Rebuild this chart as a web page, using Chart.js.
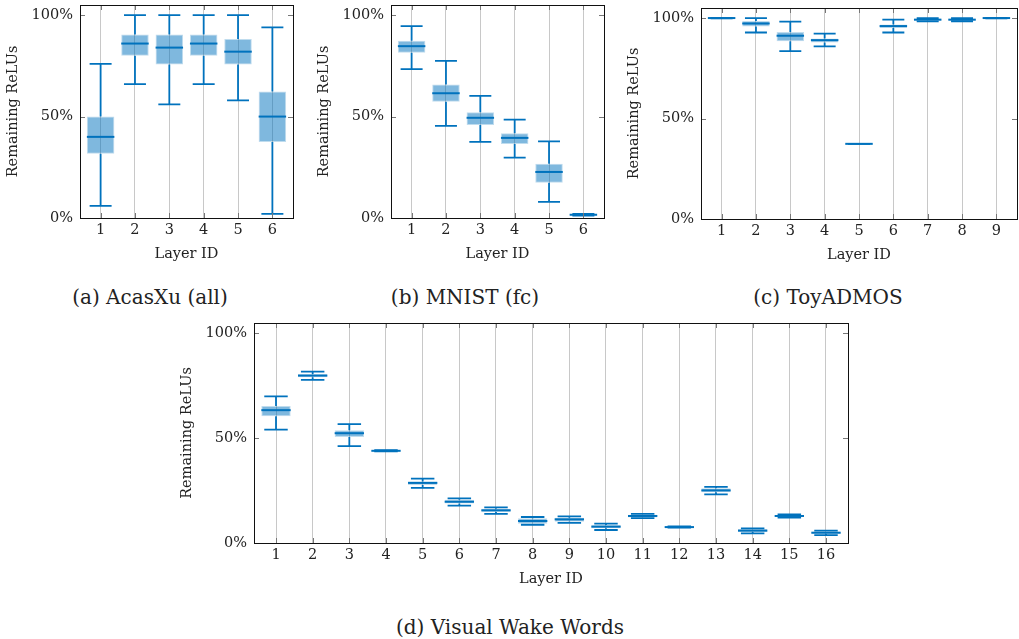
<!DOCTYPE html>
<html>
<head>
<meta charset="utf-8">
<script src="https://cdn.jsdelivr.net/npm/chart.js@4.4.1/dist/chart.umd.min.js"></script>
<style>
  body { margin: 0; background: #fff; }
  #page { position: relative; width: 1019px; height: 639px; overflow: hidden; }
  canvas { position: absolute; }
  .cap { position: absolute; width: 400px; text-align: center; font-family: 'DejaVu Serif', serif; font-size: 20px; color: #222; line-height: 24px; }
</style>
</head>
<body>
<div id="page">
  <canvas id="cA" width="300" height="270" style="left:0px;top:0px"></canvas>
  <canvas id="cB" width="300" height="270" style="left:311px;top:0px"></canvas>
  <canvas id="cC" width="398" height="271" style="left:621px;top:0px"></canvas>
  <canvas id="cD" width="680" height="277" style="left:174px;top:318px"></canvas>
  <div class="cap" style="left:-50px;top:285px">(a) AcasXu (all)</div>
  <div class="cap" style="left:265px;top:285px">(b) MNIST (fc)</div>
  <div class="cap" style="left:628px;top:285px">(c) ToyADMOS</div>
  <div class="cap" style="left:310px;top:615px">(d) Visual Wake Words</div>
</div>
<script>
// y ticks shared by all panels
const yTicks = [0, 50, 100];

// (a) AcasXu (all)
const acasLayers = [1, 2, 3, 4, 5, 6];
const acasLow  = [6, 66, 56, 66, 58, 2];
const acasQ1   = [31.7, 80, 75.7, 80, 75.7, 37.5];
const acasMed  = [40, 86, 84, 86, 82, 50];
const acasQ3   = [50, 90.5, 90.5, 90.5, 88.3, 62.3];
const acasHigh = [76, 100, 100, 100, 100, 94];

// (b) MNIST (fc)
const mnistLayers = [1, 2, 3, 4, 5, 6];
const mnistLow  = [73.4, 45.4, 37.5, 29.8, 7.9, 1.2];
const mnistQ1   = [81.4, 57.3, 45.9, 36.5, 17.4, 1.3];
const mnistMed  = [84.7, 61.5, 49.4, 39.5, 22.7, 1.6];
const mnistQ3   = [87.4, 65.8, 52.1, 41.8, 26.7, 1.9];
const mnistHigh = [94.6, 77.5, 60.2, 48.5, 37.8, 2.0];

// (c) ToyADMOS
const toyLayers = [1, 2, 3, 4, 5, 6, 7, 8, 9];
const toyLow  = [99.8, 92.8, 83.5, 85.9, 37.4, 92.8, 98.3, 98.4, 99.8];
const toyQ1   = [99.8, 95.8, 88.5, 87.8, 37.4, 95.0, 98.6, 98.6, 99.8];
const toyMed  = [100, 97.3, 91.2, 89.0, 37.4, 96.0, 99.2, 99.2, 100];
const toyQ3   = [100, 98.5, 93.0, 89.8, 37.4, 96.8, 99.6, 99.6, 100];
const toyHigh = [100, 100, 98.2, 92.2, 37.4, 99.2, 100, 100, 100];

// (d) Visual Wake Words
const vwwLayers = [1, 2, 3, 4, 5, 6, 7, 8, 9, 10, 11, 12, 13, 14, 15, 16];
const vwwLow  = [54.1, 77.9, 46.2, 43.7, 26.3, 17.8, 13.9, 8.7, 9.6, 6.2, 11.9, 7.3, 23.2, 4.6, 12.1, 3.8];
const vwwQ1   = [60.5, 79.1, 50.6, 43.8, 27.7, 18.8, 14.8, 9.2, 10.2, 7.0, 12.2, 7.4, 24.2, 5.3, 12.4, 4.4];
const vwwMed  = [63.4, 79.9, 52.4, 44.0, 28.7, 19.7, 15.6, 10.5, 11.3, 7.8, 12.9, 7.6, 25.1, 5.9, 12.9, 4.9];
const vwwQ3   = [65.4, 80.7, 53.8, 44.2, 29.3, 20.7, 16.4, 11.8, 12.1, 8.6, 13.5, 7.8, 26.1, 6.7, 13.3, 5.5];
const vwwHigh = [70.0, 81.8, 56.7, 44.3, 30.7, 21.3, 17.0, 12.4, 12.7, 9.2, 13.9, 7.9, 26.8, 7.0, 13.7, 5.9];

Chart.defaults.font.family = "'DejaVu Serif', serif";
Chart.defaults.font.size = 14.5;
Chart.defaults.color = '#222';

const blue = '#0072bd';

// whiskers, medians, inner ticks and frame
const boxWhisk = {
  id: 'boxWhisk',
  afterDatasetsDraw(chart, args, opts) {
    const {ctx, chartArea: a, scales: {x, y}} = chart;
    const bars = chart.getDatasetMeta(0).data;
    ctx.save();
    ctx.strokeStyle = blue;
    opts.layers.forEach((l, i) => {
      const px = x.getPixelForValue(l);
      const cap = x.getPixelForValue(l + 0.32) - px;
      const half = bars[i].width / 2;
      const yl = y.getPixelForValue(opts.low[i]);
      const y1 = y.getPixelForValue(opts.q1[i]);
      const ym = y.getPixelForValue(opts.med[i]);
      const y3 = y.getPixelForValue(opts.q3[i]);
      const yh = y.getPixelForValue(opts.high[i]);
      ctx.lineWidth = 1.8;
      ctx.beginPath();
      ctx.moveTo(px, yl); ctx.lineTo(px, y1);
      ctx.moveTo(px, y3); ctx.lineTo(px, yh);
      ctx.moveTo(px - cap, yl); ctx.lineTo(px + cap, yl);
      ctx.moveTo(px - cap, yh); ctx.lineTo(px + cap, yh);
      ctx.stroke();
      ctx.lineWidth = 2;
      ctx.beginPath();
      ctx.moveTo(px - half, ym); ctx.lineTo(px + half, ym);
      ctx.stroke();
    });
    // tick marks inside the frame
    ctx.strokeStyle = '#777';
    ctx.lineWidth = 1;
    ctx.beginPath();
    x.ticks.forEach(t => {
      const px = Math.round(x.getPixelForValue(t.value)) + 0.5;
      ctx.moveTo(px, a.bottom); ctx.lineTo(px, a.bottom - 5);
      ctx.moveTo(px, a.top); ctx.lineTo(px, a.top + 5);
    });
    y.ticks.forEach(t => {
      const py = Math.round(y.getPixelForValue(t.value)) + 0.5;
      ctx.moveTo(a.left, py); ctx.lineTo(a.left + 5, py);
      ctx.moveTo(a.right, py); ctx.lineTo(a.right - 5, py);
    });
    ctx.stroke();
    ctx.strokeStyle = '#111';
    ctx.lineWidth = 1;
    ctx.strokeRect(Math.round(a.left) + 0.5, Math.round(a.top) + 0.5,
      Math.round(a.right - a.left), Math.round(a.bottom - a.top));
    ctx.restore();
  }
};

function makeBoxChart(id, layers, low, q1, med, q3, high, xMax, padTop, padRight) {
  return new Chart(document.getElementById(id), {
    type: 'bar',
    data: {
      datasets: [{
        data: layers.map((l, i) => ({x: l, y: [q1[i], q3[i]]})),
        backgroundColor: 'rgba(0, 114, 189, 0.5)',
        borderColor: 'rgba(0, 114, 189, 0.25)',
        borderWidth: 1,
        borderSkipped: false,
        categoryPercentage: 1,
        barPercentage: 0.8,
      }],
    },
    options: {
      responsive: false,
      animation: false,
      events: [],
      layout: {padding: {top: padTop, right: padRight, left: 0, bottom: 0}},
      plugins: {
        legend: {display: false},
        tooltip: {enabled: false},
        boxWhisk: {layers: layers, low: low, q1: q1, med: med, q3: q3, high: high},
      },
      scales: {
        x: {
          type: 'linear',
          min: 0.4,
          max: xMax,
          offset: false,
          afterBuildTicks: s => { s.ticks = layers.map(v => ({value: v})); },
          afterFit: s => { s.height = 52; s.paddingLeft = 0; s.paddingRight = 0; },
          ticks: {autoSkip: false, maxRotation: 0, padding: 4},
          grid: {color: '#c8c8c8', drawTicks: false, offset: false},
          border: {display: false},
          title: {display: true, text: 'Layer ID', padding: {top: 0, bottom: 7}},
        },
        y: {
          min: 0,
          max: 105,
          afterBuildTicks: s => { s.ticks = yTicks.map(v => ({value: v})); },
          afterFit: s => { s.width = 80; s.paddingTop = 0; s.paddingBottom = 0; },
          ticks: {padding: 7, callback: v => v + '%'},
          grid: {display: false, drawTicks: false},
          border: {display: false},
          title: {display: true, text: 'Remaining ReLUs', padding: {top: 5, bottom: 0}},
        },
      },
    },
    plugins: [boxWhisk],
  });
}

makeBoxChart('cA', acasLayers, acasLow, acasQ1, acasMed, acasQ3, acasHigh, 6.6, 5, 7);
makeBoxChart('cB', mnistLayers, mnistLow, mnistQ1, mnistMed, mnistQ3, mnistHigh, 6.6, 5, 7);
makeBoxChart('cC', toyLayers, toyLow, toyQ1, toyMed, toyQ3, toyHigh, 9.6, 8, 2);
makeBoxChart('cD', vwwLayers, vwwLow, vwwQ1, vwwMed, vwwQ3, vwwHigh, 16.6, 5, 6);
</script>
</body>
</html>
